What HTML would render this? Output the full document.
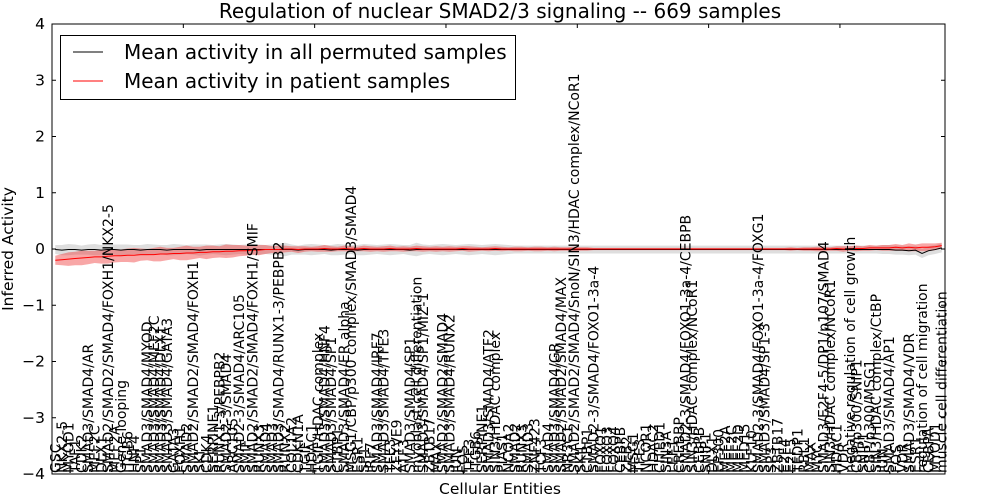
<!DOCTYPE html>
<html><head><meta charset="utf-8"><style>
html,body{margin:0;padding:0;background:#fff;}
svg{display:block;font-family:"DejaVu Sans","Liberation Sans",sans-serif;}
</style></head><body>
<svg id="chart" width="1000" height="500" viewBox="0 0 1000 500" xmlns="http://www.w3.org/2000/svg">
<rect x="0" y="0" width="1000" height="500" fill="#fff"/>
<text x="500" y="18" font-size="20" text-anchor="middle">Regulation of nuclear SMAD2/3 signaling -- 669 samples</text>
<text transform="translate(13,249) rotate(-90)" font-size="15.5" text-anchor="middle">Inferred Activity</text>
<text x="500" y="494" font-size="15.5" text-anchor="middle">Cellular Entities</text>
<g id="plot"></g>
</svg>
<script>
const labels=["GSC","NKX2-5","MYOD1","TAF1","CDK2","SMAD3/SMAD4/AR","MEF2C","DLX1","SMAD2/SMAD2/SMAD4/FOXH1/NKX2-5","MEF2A",
"Gene looping","ITGB6","HNF4","SP1","SMAD3/SMAD4/MYOD","SMAD3/SMAD4/MEF2C","SMAD3/SMAD4/DLX1","SMAD3/SMAD4/GATA3","GATA3","FOXH1",
"SMAD2","SMAD2/SMAD2/SMAD4/FOXH1","SKI","CDK4","SERPINE1","RUNX1-3/PEBPB2","SMAD2-3/SMAD4","ARC105","SMAD2-3/SMAD4/ARC105","SMIF",
"SMAD2/SMAD2/SMAD4/FOXH1/SMIF","RUNX3","SMAD4","SMAD3","SMAD3/SMAD4/RUNX1-3/PEBPB2","RUNX2","COL1A2","CDKN1A","TGIF","HDAC1",
"TGIF/HDAC complex","SMAD3/SMAD4/HNF4","SMAD3/SMAD4/SP1","CTBP1","SMAD3/SMAD4/ER alpha","MSG1/CBP/p300 complex/SMAD3/SMAD4","ESR1","SP1","IRF7","SMAD3/SMAD4/IRF7",
"SMAD3/SMAD4/TFE3","TFE3","ZFYVE9","ATF3","SMAD3/SMAD4/SP1","myoblast cell differentiation","SMAD3/SMAD4/SP1/MIZ-1","ZBTB17","MAX","SMAD2/SMAD2/SMAD4",
"SMAD3/SMAD4/RUNX2","JUN","FOS","TFE3","ITGB6","SERPINE1","SMAD3/SMAD4/ATF2","SIN3/HDAC complex","PIAS1","NCOA2",
"SMAD2","RUNX3","SMAD3","ZNF423","TCF3","SMAD4","SMAD3/SMAD4/GR","SMAD2/SMAD2/SMAD4/MAX","NR3C1","SMAD2/SMAD2/SMAD4/SnoN/SIN3/HDAC complex/NCoR1",
"SKIL","CTBP1","SMAD2-3/SMAD4/FOXO1-3a-4","FOXO1","FOXO3","FOXO4","CEBPB","ZEB2","MSG1","TFE3",
"NCOR1","HDAC2","CITED1","SIN3A","LEF1","CREBBP","SMAD2-3/SMAD4/FOXO1-3a-4/CEBPB","SIN3/HDAC complex/NCoR1","CEBPB","SNIP1",
"DLX1","EP300","MEF2A","MEF2C","MEF2D","MED15","KLF10","SMAD2-3/SMAD4/FOXO1-3a-4/FOXG1","SMAD3/SMAD4/SP1-3","SP3",
"ZBTB17","E2F4","E2F5","TFDP1","RBL1","MAX","MYC","SMAD3/E2F4-5/DP1/p107/SMAD4","SIN3/HDAC complex/NCoR1","HDAC1",
"VDR","negative regulation of cell growth","CBP/p300/SNIP1","SNIP1","CBP/p300/MSG1","SIN3/HDAC complex/CtBP","JUN","SMAD3/SMAD4/AP1","FOS","VDR",
"SMAD3/SMAD4/VDR","ESR1","regulation of cell migration","CEBPA","MYOD1","muscle cell differentiation"];
const patientMean=[-0.20,-0.19,-0.18,-0.17,-0.16,-0.15,-0.14,-0.14,-0.13,-0.12,
-0.12,-0.11,-0.11,-0.10,-0.10,-0.10,-0.09,-0.09,-0.08,-0.08,
-0.07,-0.07,-0.06,-0.06,-0.05,-0.05,-0.04,-0.04,-0.03,-0.03,
-0.02,-0.02,-0.01,-0.01,-0.01,0.00,0.00,-0.01,0.00,0.00,
0.00,0.01,0.00,0.00,0.01,0.00,0.00,0.01,0.00,0.00,
0.00,0.01,0.00,0.00,0.00,0.01,0.00,0.00,0.00,0.00,
0.00,0.00,0.01,0.00,0.00,0.00,0.00,0.01,0.00,0.00,
0.00,0.00,0.00,0.00,0.00,0.00,0.00,0.00,0.00,0.00,
0.00,0.00,0.00,0.00,0.00,0.00,0.00,0.00,0.00,0.00,
0.00,0.00,0.00,0.00,0.00,0.00,0.00,0.00,0.00,0.00,
0.00,0.00,0.00,0.00,0.00,0.00,0.00,0.00,0.00,0.00,
0.00,0.00,0.00,0.00,0.00,0.00,0.00,0.00,0.00,0.01,
0.00,0.01,0.01,0.01,0.02,0.02,0.02,0.02,0.03,0.02,
0.03,0.02,0.03,0.03,0.04,0.06];
const patientSpread=[0.08,0.10,0.12,0.12,0.13,0.12,0.11,0.12,0.13,0.12,
0.11,0.12,0.13,0.11,0.10,0.12,0.13,0.11,0.10,0.12,
0.13,0.11,0.10,0.12,0.11,0.10,0.12,0.11,0.10,0.09,
0.08,0.09,0.08,0.06,0.07,0.06,0.05,0.06,0.05,0.04,
0.05,0.06,0.05,0.04,0.05,0.05,0.04,0.05,0.05,0.04,
0.05,0.05,0.04,0.05,0.04,0.05,0.05,0.04,0.05,0.04,
0.05,0.04,0.04,0.05,0.04,0.03,0.04,0.04,0.04,0.03,
0.04,0.04,0.03,0.04,0.04,0.03,0.04,0.03,0.03,0.04,
0.03,0.03,0.02,0.02,0.02,0.02,0.02,0.02,0.02,0.02,
0.02,0.02,0.02,0.02,0.02,0.02,0.02,0.02,0.02,0.02,
0.02,0.02,0.02,0.02,0.02,0.02,0.02,0.02,0.02,0.02,
0.02,0.02,0.03,0.02,0.03,0.03,0.04,0.04,0.03,0.04,
0.05,0.04,0.05,0.04,0.05,0.04,0.05,0.05,0.06,0.05,
0.07,0.06,0.07,0.07,0.06,0.05];
const permMean=[-0.01,-0.02,-0.01,-0.01,-0.02,-0.01,-0.01,-0.02,-0.01,-0.01,
-0.02,-0.01,-0.01,-0.02,-0.01,-0.01,-0.01,-0.02,-0.01,-0.01,
-0.01,-0.01,-0.02,-0.01,-0.01,-0.01,-0.01,-0.01,-0.01,-0.01,
-0.01,-0.01,-0.01,-0.01,-0.01,-0.01,-0.01,-0.02,-0.01,-0.01,
-0.01,-0.01,-0.02,-0.01,-0.01,-0.01,-0.02,-0.01,-0.01,-0.01,
-0.01,-0.01,-0.01,-0.01,-0.02,-0.01,-0.01,-0.01,-0.01,-0.01,
-0.01,-0.01,-0.01,-0.01,-0.01,-0.01,-0.01,-0.01,-0.01,-0.01,
-0.01,-0.01,-0.01,-0.01,-0.01,-0.01,-0.01,-0.01,-0.01,-0.01,
-0.01,-0.01,-0.01,-0.01,-0.01,-0.01,-0.01,-0.01,-0.01,-0.01,
-0.01,-0.01,-0.01,-0.01,-0.01,-0.01,-0.01,-0.01,-0.01,-0.01,
-0.01,-0.01,-0.01,-0.01,-0.01,-0.01,-0.01,-0.01,-0.01,-0.01,
-0.01,-0.01,-0.01,-0.01,-0.01,-0.01,-0.01,-0.01,-0.01,-0.01,
-0.01,-0.01,-0.01,-0.01,-0.01,-0.01,-0.01,-0.01,-0.02,-0.02,
-0.03,-0.02,-0.08,-0.03,-0.01,0.02];
const permSpread=[0.08,0.09,0.10,0.09,0.08,0.09,0.10,0.09,0.08,0.09,
0.10,0.09,0.08,0.09,0.10,0.09,0.08,0.09,0.10,0.09,
0.08,0.09,0.10,0.09,0.08,0.09,0.10,0.09,0.08,0.09,
0.10,0.09,0.08,0.09,0.10,0.12,0.09,0.08,0.09,0.10,
0.09,0.08,0.09,0.10,0.09,0.08,0.09,0.10,0.09,0.08,
0.09,0.10,0.09,0.08,0.09,0.12,0.09,0.08,0.09,0.10,
0.09,0.08,0.09,0.10,0.09,0.08,0.09,0.10,0.09,0.08,
0.07,0.07,0.07,0.07,0.07,0.07,0.07,0.07,0.07,0.07,
0.07,0.07,0.07,0.07,0.07,0.07,0.07,0.07,0.07,0.07,
0.07,0.07,0.07,0.07,0.07,0.07,0.07,0.07,0.07,0.07,
0.07,0.07,0.07,0.07,0.07,0.07,0.07,0.07,0.07,0.07,
0.07,0.07,0.07,0.07,0.07,0.07,0.07,0.07,0.07,0.07,
0.07,0.07,0.07,0.07,0.07,0.07,0.08,0.08,0.08,0.08,
0.08,0.08,0.08,0.08,0.08,0.08];
const yTicks=[-4,-3,-2,-1,0,1,2,3,4];
const xTicks=[0,20,40,60,80,100,120];

const L=52,R=945,T=24,B=474;
const N=labels.length;
const xs=i=>L+(i+0.5)*(R-L)/N;
const xa=v=>L+v*(R-L)/N;
const ys=v=>249-v*(B-T)/8;
const NS="http://www.w3.org/2000/svg";
const g=document.getElementById('plot');
function mk(tag,attrs){const e=document.createElementNS(NS,tag);for(const k in attrs)e.setAttribute(k,attrs[k]);g.appendChild(e);return e;}

function band(mean,spread,fill,name){
  let up=mean.map((m,i)=>xs(i).toFixed(2)+','+ys(m+spread[i]).toFixed(2));
  let lo=mean.map((m,i)=>xs(i).toFixed(2)+','+ys(m-spread[i]).toFixed(2)).reverse();
  const p=mk('polygon',{points:up.concat(lo).join(' '),fill:fill,stroke:'none'});
  
  
}
band(permMean,permSpread,'rgba(160,160,160,0.35)','permuted-band');
band(patientMean,patientSpread,'rgba(240,60,60,0.45)','patient-band');
const l1=mk('polyline',{points:permMean.map((m,i)=>xs(i).toFixed(2)+','+ys(m).toFixed(2)).join(' '),fill:'none',stroke:'#000','stroke-width':1});


const l2=mk('polyline',{points:patientMean.map((m,i)=>xs(i).toFixed(2)+','+ys(m).toFixed(2)).join(' '),fill:'none',stroke:'#f00','stroke-width':1});



labels.forEach((t,i)=>{
  const e=mk('text',{transform:`translate(${(xs(i)+5).toFixed(2)},${B-1}) rotate(-90)`,'font-size':14,fill:'#000'});
  e.textContent=t;
  
  
});

yTicks.forEach(v=>{
  const y=ys(v);
  mk('line',{x1:L,x2:L+4,y1:y,y2:y,stroke:'#000','stroke-width':1});
  mk('line',{x1:R-4,x2:R,y1:y,y2:y,stroke:'#000','stroke-width':1});
  const t=mk('text',{x:L-7,y:y+5,'font-size':15.5,'text-anchor':'end'});
  t.textContent=(v<0?'\u2212':'')+Math.abs(v);
  
  
});
xTicks.forEach(v=>{
  const x=xa(v);
  mk('line',{x1:x,x2:x,y1:T,y2:T+4,stroke:'#000','stroke-width':1});
  mk('line',{x1:x,x2:x,y1:B-4,y2:B,stroke:'#000','stroke-width':1});
});
const frame=mk('rect',{x:L,y:T,width:R-L,height:B-T,fill:'none',stroke:'#000','stroke-width':1});



const lg=mk('rect',{x:60.5,y:35.5,width:455,height:64,fill:'#fff',stroke:'#000','stroke-width':1});


mk('line',{x1:73,x2:103,y1:52,y2:52,stroke:'#000','stroke-width':1});
mk('line',{x1:73,x2:103,y1:81,y2:81,stroke:'#f00','stroke-width':1});
const t1=mk('text',{x:124,y:59,'font-size':20});
t1.textContent='Mean activity in all permuted samples';


const t2=mk('text',{x:124,y:88,'font-size':20});
t2.textContent='Mean activity in patient samples';


</script>
</body></html>
